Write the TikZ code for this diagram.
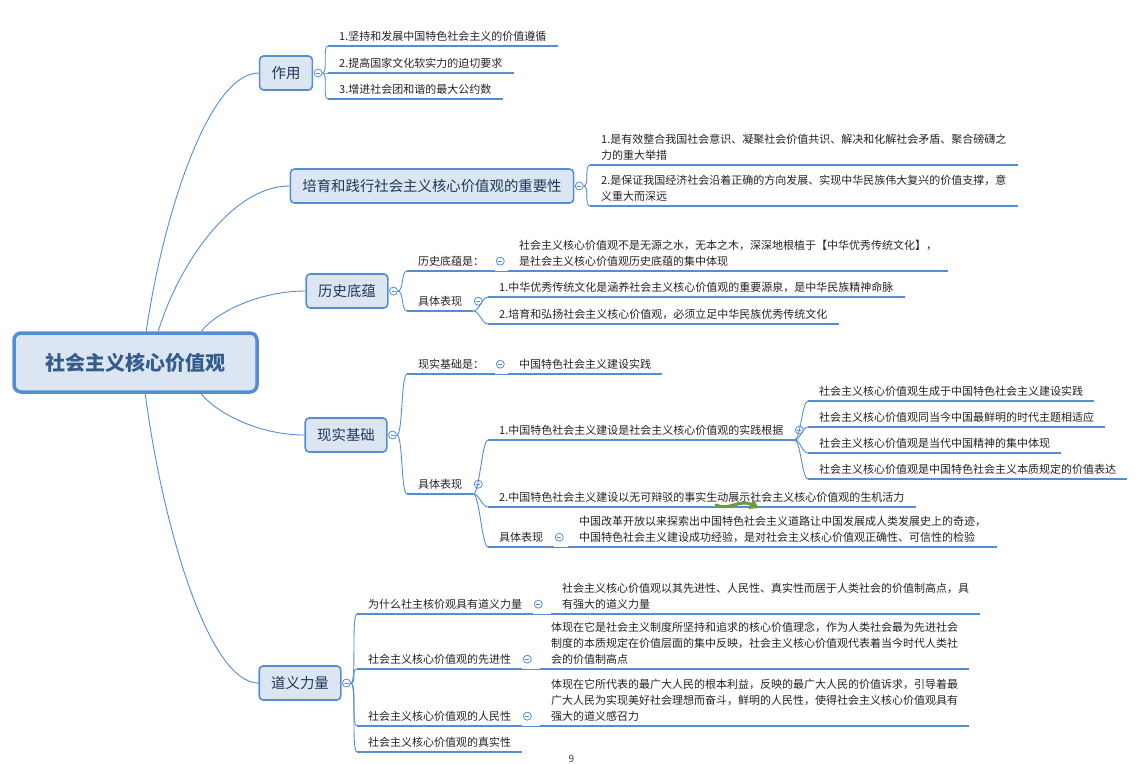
\documentclass[tikz,border=0pt]{standalone}
\usepackage{fontspec}
\setmainfont{Noto Sans CJK SC}
\usetikzlibrary{arrows.meta,positioning}
\definecolor{linkblue}{RGB}{84,141,212}
\definecolor{topicfill}{RGB}{220,230,242}
\definecolor{topictext}{RGB}{30,55,90}
\definecolor{hubtext}{RGB}{54,92,142}
\definecolor{leaftext}{RGB}{35,35,35}
\definecolor{annotgreen}{RGB}{116,150,58}

\begin{document}
\begin{tikzpicture}[x=1pt,y=-1pt,
	link/.style={draw=linkblue, line width=0.9pt},
	uline/.style={draw=linkblue, line width=2.3pt},
	fork/.style={to path={.. controls +(6,0) and +(-6,0) .. (\tikztotarget)}},
	hub/.style={draw=linkblue, line width=3.5pt, fill=topicfill, rounded corners=7pt, minimum width=243pt, minimum height=59pt, text=hubtext, font=\fontsize{20}{24}\selectfont\bfseries},
	topic/.style={draw=linkblue, line width=1.6pt, fill=topicfill, rounded corners=4pt, text=topictext, font=\fontsize{14.4}{16}\selectfont, inner xsep=12pt, minimum height=34pt},
	leaf/.style={anchor=south west, inner xsep=11pt, inner ysep=4.5pt, align=left, text=leaftext, font=\fontsize{11}{15.8}\selectfont},
	fold/.style={circle, draw=linkblue, line width=0.8pt, fill=white, inner sep=0pt, minimum size=8pt, path picture={\draw[linkblue, line width=0.6pt] ([xshift=-2pt]path picture bounding box.center) -- ([xshift=2pt]path picture bounding box.center);}},
	annot/.style={draw=annotgreen, line width=3pt, line cap=round, -{Triangle[length=9pt,width=10pt]}}]
	\useasboundingbox (0,0) rectangle (1142,763);

	\node[hub] (hub) at (135.5,362.5) {社会主义核心价值观};
	\node[topic] (zy) at (286,73) {作用};
	\node[topic] (py) at (432,186) {培育和践行社会主义核心价值观的重要性};
	\node[topic] (ls) at (347,291) {历史底蕴};
	\node[topic] (xs) at (346,435) {现实基础};
	\node[topic] (dy) at (300,683) {道义力量};
	\foreach \t in {zy,py,ls,xs,dy}
		\node[fold, right=0.5pt of \t] (\t-f) {};

	\draw[link] ([xshift=134pt]hub.north west) .. controls +(17,-117) and +(-50,0) .. (zy.west);
	\draw[link] ([xshift=146pt]hub.north west) .. controls +(20,-66) and +(-58,0) .. (py.west);
	\draw[link] ([xshift=189pt]hub.north west) .. controls +(15,-19) and +(-46,0) .. (ls.west);
	\draw[link] ([xshift=189pt]hub.south west) .. controls +(15,19) and +(-46,0) .. (xs.west);
	\draw[link] ([xshift=133pt]hub.south west) .. controls +(17,131) and +(-50,0) .. (dy.west);

	\node[leaf] (zy1) at (328,46) {1.坚持和发展中国特色社会主义的价值遵循};
	\node[leaf] (zy2) at (328,73) {2.提高国家文化软实力的迫切要求};
	\node[leaf] (zy3) at (328,99) {3.增进社会团和谐的最大公约数};

	\node[leaf] (py1) at (590,165) {1.是有效整合我国社会意识、凝聚社会价值共识、解决和化解社会矛盾、聚合磅礴之\\力的重大举措};
	\node[leaf] (py2) at (590,206) {2.是保证我国经济社会沿着正确的方向发展、实现中华民族伟大复兴的价值支撑，意\\义重大而深远};

	\node[leaf] (ls1) at (407,271) {历史底蕴是：};
	\node[fold, right=0.5pt of ls1] (ls1-f) {};
	\node[leaf] (ls1a) at (508,271) {社会主义核心价值观不是无源之水，无本之木，深深地根植于【中华优秀传统文化】，\\是社会主义核心价值观历史底蕴的集中体现};
	\node[leaf] (ls2) at (407,311) {具体表现};
	\node[fold, right=0.5pt of ls2] (ls2-f) {};
	\node[leaf] (ls2a) at (488,297) {1.中华优秀传统文化是涵养社会主义核心价值观的重要源泉，是中华民族精神命脉};
	\node[leaf] (ls2b) at (488,324) {2.培育和弘扬社会主义核心价值观，必须立足中华民族优秀传统文化};

	\node[leaf] (xs1) at (407,374) {现实基础是：};
	\node[fold, right=0.5pt of xs1] (xs1-f) {};
	\node[leaf] (xs1a) at (508,374) {中国特色社会主义建设实践};
	\node[leaf] (xs2) at (407,494) {具体表现};
	\node[fold, right=0.5pt of xs2] (xs2-f) {};
	\node[leaf] (xs2a) at (488,440) {1.中国特色社会主义建设是社会主义核心价值观的实践根据};
	\node[fold, right=0.5pt of xs2a] (xs2a-f) {};
	\node[leaf] (xs2a1) at (808,401) {社会主义核心价值观生成于中国特色社会主义建设实践};
	\node[leaf] (xs2a2) at (808,427) {社会主义核心价值观同当今中国最鲜明的时代主题相适应};
	\node[leaf] (xs2a3) at (808,453) {社会主义核心价值观是当代中国精神的集中体现};
	\node[leaf] (xs2a4) at (808,479) {社会主义核心价值观是中国特色社会主义本质规定的价值表达};
	\node[leaf] (xs2b) at (488,507) {2.中国特色社会主义建设以无可辩驳的事实生动展示社会主义核心价值观的生机活力};
	\node[leaf] (xs2c) at (488,547) {具体表现};
	\node[fold, right=0.5pt of xs2c] (xs2c-f) {};
	\node[leaf] (xs2c1) at (568,547) {中国改革开放以来探索出中国特色社会主义道路让中国发展成人类发展史上的奇迹，\\中国特色社会主义建设成功经验，是对社会主义核心价值观正确性、可信性的检验};

	\node[leaf] (dy1) at (357,614) {为什么社主核价观具有道义力量};
	\node[fold, right=0.5pt of dy1] (dy1-f) {};
	\node[leaf] (dy1a) at (551,614) {社会主义核心价值观以其先进性、人民性、真实性而居于人类社会的价值制高点，具\\有强大的道义力量};
	\node[leaf] (dy2) at (357,669) {社会主义核心价值观的先进性};
	\node[fold, right=0.5pt of dy2] (dy2-f) {};
	\node[leaf] (dy2a) at (540,669) {体现在它是社会主义制度所坚持和追求的核心价值理念，作为人类社会最为先进社会\\制度的本质规定在价值层面的集中反映，社会主义核心价值观代表着当今时代人类社\\会的价值制高点};
	\node[leaf] (dy3) at (357,726) {社会主义核心价值观的人民性};
	\node[fold, right=0.5pt of dy3] (dy3-f) {};
	\node[leaf] (dy3a) at (540,726) {体现在它所代表的最广大人民的根本利益，反映的最广大人民的价值诉求，引导着最\\广大人民为实现美好社会理想而奋斗，鲜明的人民性，使得社会主义核心价值观具有\\强大的道义感召力};
	\node[leaf] (dy4) at (357,752) {社会主义核心价值观的真实性};

	\foreach \a/\b in {zy-f/zy1, zy-f/zy2, zy-f/zy3, py-f/py1, py-f/py2, ls-f/ls1, ls-f/ls2, xs-f/xs1, xs-f/xs2, dy-f/dy1, dy-f/dy2, dy-f/dy3, dy-f/dy4}
		\draw[link] (\a.east) to[fork] (\b.south west);
	\foreach \a/\b in {ls1/ls1a, ls2/ls2a, ls2/ls2b, xs1/xs1a, xs2/xs2a, xs2/xs2b, xs2/xs2c, xs2a/xs2a1, xs2a/xs2a2, xs2a/xs2a3, xs2a/xs2a4, xs2c/xs2c1, dy1/dy1a, dy2/dy2a, dy3/dy3a}
		\draw[link] (\a.south east) to[fork] (\b.south west);
	\foreach \n in {zy1,zy2,zy3,py1,py2,ls1,ls1a,ls2,ls2a,ls2b,xs1,xs1a,xs2,xs2a,xs2a1,xs2a2,xs2a3,xs2a4,xs2b,xs2c,xs2c1,dy1,dy1a,dy2,dy2a,dy3,dy3a,dy4}
		\draw[uline] (\n.south west) -- (\n.south east);

	\coordinate (gs) at (716,505);
	\coordinate (ge) at (759,508);
	\draw[annot] (gs) .. controls (728,511) and (740,499) .. (ge);
	\node[anchor=base, text=black!75, font=\fontsize{10}{12}\selectfont] (pg) at (571.5,762) {9};
\end{tikzpicture}
\end{document}
